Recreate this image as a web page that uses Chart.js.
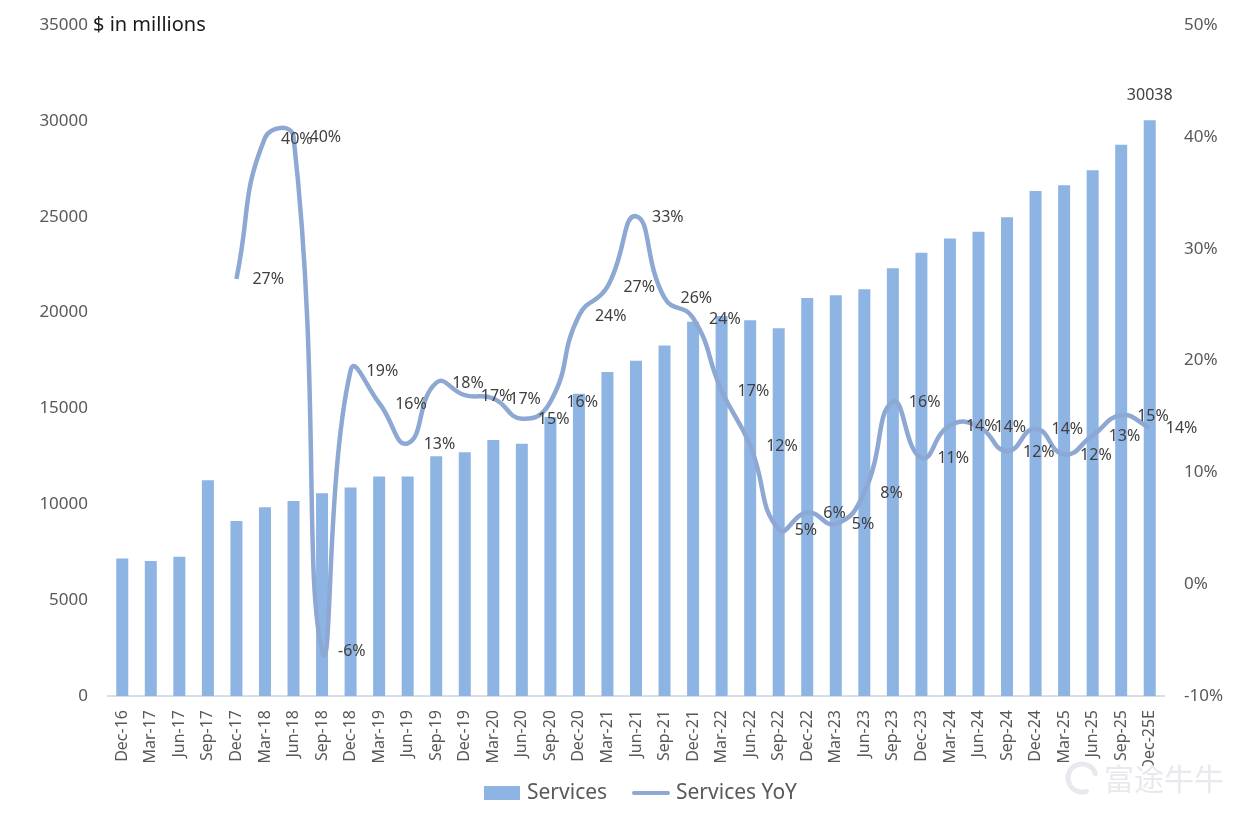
<!DOCTYPE html>
<html>
<head>
<meta charset="utf-8">
<script src="https://cdn.jsdelivr.net/npm/chart.js@4.4.1/dist/chart.umd.min.js"></script>
<style>
  html, body { margin: 0; padding: 0; background: #fff; }
  #wrap { width: 1242px; height: 817px; position: relative; }
</style>
</head>
<body>
<div id="wrap"><canvas id="servicesChart" width="1242" height="817"></canvas></div>
<script>
// --- data ---
const categories = [
  'Dec-16', 'Mar-17', 'Jun-17', 'Sep-17', 'Dec-17', 'Mar-18', 'Jun-18', 'Sep-18',
  'Dec-18', 'Mar-19', 'Jun-19', 'Sep-19', 'Dec-19', 'Mar-20', 'Jun-20', 'Sep-20',
  'Dec-20', 'Mar-21', 'Jun-21', 'Sep-21', 'Dec-21', 'Mar-22', 'Jun-22', 'Sep-22',
  'Dec-22', 'Mar-23', 'Jun-23', 'Sep-23', 'Dec-23', 'Mar-24', 'Jun-24', 'Sep-24',
  'Dec-24', 'Mar-25', 'Jun-25', 'Sep-25', 'Dec-25E'
];

// $ in millions
const services = [
  7172, 7041, 7266, 11250, 9129, 9850, 10170, 10580,
  10875, 11450, 11455, 12511, 12715, 13348, 13156, 14549,
  15761, 16901, 17486, 18277, 19516, 19821, 19604, 19188,
  20766, 20907, 21213, 22314, 23117, 23867, 24213, 24972,
  26340, 26645, 27423, 28750, 30038
];

// YoY growth, %
const servicesYoY = [
  null, null, null, null, 27.3, 39.9, 40.0, -5.9,
  19.1, 16.2, 12.6, 18.0, 16.9, 16.6, 14.8, 16.3,
  24.0, 26.6, 32.9, 25.6, 23.8, 17.3, 12.4, 4.9,
  6.4, 5.4, 8.2, 16.3, 11.3, 14.2, 14.1, 11.9,
  13.9, 11.6, 13.3, 15.1, 14.0
];

const leftTicks = { min: 0, max: 35000, step: 5000 };
const rightTicks = { min: -10, max: 50, step: 10 };

const barColor = '#8DB4E2';
const lineColor = '#8EA8D4';
const FONT = "'Noto Sans', 'Open Sans', sans-serif";

// labels next to the line points + the total above the last bar
const labelPlugin = {
    id: 'valueLabels',
    afterDatasetsDraw(chart) {
        const ctx = chart.ctx;
        ctx.save();
        ctx.font = '16px ' + FONT;
        ctx.fillStyle = '#404040';
        ctx.textAlign = 'left';
        ctx.textBaseline = 'middle';
        const lineMeta = chart.getDatasetMeta(1);
        lineMeta.data.forEach((pt, i) => {
            const v = servicesYoY[i];
            if (v === null) return;
            ctx.fillText(Math.round(v) + '%', pt.x + 16, pt.y + 1);
        });
        // last bar value
        const barMeta = chart.getDatasetMeta(0);
        const last = barMeta.data[barMeta.data.length - 1];
        ctx.textAlign = 'center';
        ctx.fillText(String(services[services.length - 1]), last.x, last.y - 25);
        ctx.restore();
    },
    afterDraw(chart) {
        const ctx = chart.ctx;
        ctx.save();
        // unit caption next to the top tick
        ctx.font = '20px ' + FONT;
        ctx.fillStyle = '#1a1a1a';
        ctx.textAlign = 'left';
        ctx.textBaseline = 'middle';
        ctx.fillText('$ in millions', 93, 25);

        // legend
        const ly = 793;
        ctx.font = '21px ' + FONT;
        ctx.fillStyle = barColor;
        ctx.fillRect(484, ly - 7, 36, 14);
        ctx.fillStyle = '#595959';
        ctx.fillText('Services', 527, ly);
        ctx.strokeStyle = lineColor;
        ctx.lineWidth = 4;
        ctx.lineCap = 'round';
        ctx.beginPath();
        ctx.moveTo(634, ly);
        ctx.lineTo(668, ly);
        ctx.stroke();
        ctx.fillStyle = '#595959';
        ctx.fillText('Services YoY', 676, ly);

        // watermark
        ctx.globalAlpha = 0.9;
        ctx.fillStyle = '#E4E7EB';
        ctx.strokeStyle = '#E4E7EB';
        ctx.lineWidth = 5;
        ctx.beginPath();
        ctx.arc(1082, 778, 14, 0.4 * Math.PI, 1.9 * Math.PI);
        ctx.stroke();
        ctx.font = "30px 'Noto Sans CJK SC', sans-serif";
        ctx.fillText('富途牛牛', 1104, 779);
        ctx.restore();
    }
};

const ctx = document.getElementById('servicesChart').getContext('2d');

const servicesChart = new Chart(ctx, {
    data: {
        labels: categories,
        datasets: [
            {
                type: 'bar',
                label: 'Services',
                data: services,
                backgroundColor: barColor,
                borderWidth: 0,
                barPercentage: 0.42,
                categoryPercentage: 1.0,
                yAxisID: 'y',
                order: 2
            },
            {
                type: 'line',
                label: 'Services YoY',
                data: servicesYoY,
                borderColor: lineColor,
                borderWidth: 4.5,
                pointRadius: 0,
                tension: 0.5,
                fill: false,
                yAxisID: 'y1',
                order: 1
            }
        ]
    },
    options: {
        responsive: false,
        animation: false,
        layout: { padding: { top: 25, bottom: 51, left: 0, right: 0 } },
        plugins: {
            legend: { display: false },
            tooltip: { enabled: false }
        },
        scales: {
            x: {
                grid: { display: false },
                border: { display: true, color: '#D5DFEA', width: 2 },
                ticks: {
                    color: '#595959',
                    font: { family: FONT, size: 16 },
                    minRotation: 90,
                    maxRotation: 90,
                    autoSkip: false,
                    padding: 6
                },
                afterFit(scale) { scale.height = 70; }
            },
            y: {
                position: 'left',
                min: leftTicks.min,
                max: leftTicks.max,
                grid: { display: false },
                border: { display: false },
                ticks: {
                    stepSize: leftTicks.step,
                    color: '#595959',
                    font: { family: FONT, size: 17 },
                    padding: 12,
                    callback: function (v) { return String(v); }
                },
                afterFit(scale) { scale.width = 108; }
            },
            y1: {
                position: 'right',
                min: rightTicks.min,
                max: rightTicks.max,
                grid: { display: false },
                border: { display: false },
                ticks: {
                    stepSize: rightTicks.step,
                    color: '#595959',
                    font: { family: FONT, size: 17 },
                    padding: 12,
                    callback: function (v) { return v + '%'; }
                },
                afterFit(scale) { scale.width = 78; }
            }
        }
    },
    plugins: [labelPlugin]
});
</script>
</body>
</html>
